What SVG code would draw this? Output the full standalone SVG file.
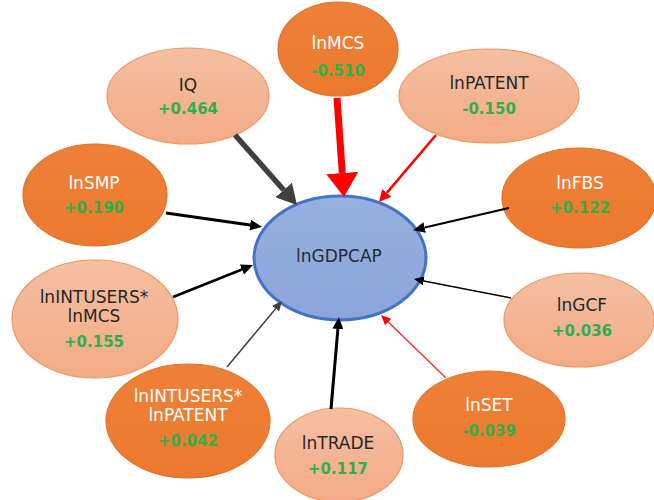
<svg xmlns="http://www.w3.org/2000/svg" width="654" height="500" viewBox="0 0 654 500">
<defs>
<linearGradient id="gDark" x1="0" y1="0" x2="0" y2="1">
<stop offset="0" stop-color="#EE8038"/><stop offset="1" stop-color="#EC7A2E"/>
</linearGradient>
<linearGradient id="gLight" x1="0" y1="0" x2="0" y2="1">
<stop offset="0" stop-color="#F5BFA2"/><stop offset="1" stop-color="#F3AB86"/>
</linearGradient>
<linearGradient id="gBlue" x1="0" y1="0" x2="0" y2="1">
<stop offset="0" stop-color="#98B0E0"/><stop offset="1" stop-color="#8AA5DA"/>
</linearGradient>
<marker id="mRedBig" markerUnits="userSpaceOnUse" viewBox="0 0 24 32" refX="0" refY="16" markerWidth="24" markerHeight="32" orient="auto"><path d="M0,0 L24,16 L0,32 Z" fill="#FF0000"/></marker>
<marker id="mGrayBig" markerUnits="userSpaceOnUse" viewBox="0 0 20 22" refX="0" refY="11" markerWidth="20" markerHeight="22" orient="auto"><path d="M0,0 L20,11 L0,22 Z" fill="#404040"/></marker>
<marker id="mRed" markerUnits="userSpaceOnUse" viewBox="0 0 12 12" refX="0" refY="6" markerWidth="12" markerHeight="12" orient="auto"><path d="M0,0 L12,6 L0,12 Z" fill="#FF0000"/></marker>
<marker id="mRedS" markerUnits="userSpaceOnUse" viewBox="0 0 10 9" refX="0" refY="4.5" markerWidth="10" markerHeight="9" orient="auto"><path d="M0,0 L10,4.5 L0,9 Z" fill="#FF0000"/></marker>
<marker id="mBlack" markerUnits="userSpaceOnUse" viewBox="0 0 12 11" refX="0" refY="5.5" markerWidth="12" markerHeight="11" orient="auto"><path d="M0,0 L12,5.5 L0,11 Z" fill="#000000"/></marker>
<marker id="mBlackS" markerUnits="userSpaceOnUse" viewBox="0 0 10 9" refX="0" refY="4.5" markerWidth="10" markerHeight="9" orient="auto"><path d="M0,0 L10,4.5 L0,9 Z" fill="#000000"/></marker>
<marker id="mGrayS" markerUnits="userSpaceOnUse" viewBox="0 0 10 9" refX="0" refY="4.5" markerWidth="10" markerHeight="9" orient="auto"><path d="M0,0 L10,4.5 L0,9 Z" fill="#404040"/></marker>
</defs>
<style>
.dark{fill:url(#gDark);stroke:#E07229;stroke-width:1.2}
.light{fill:url(#gLight);stroke:#EE955F;stroke-width:1.2}
.center{fill:url(#gBlue);stroke:#4472C4;stroke-width:3}
text{font-family:"DejaVu Sans","Liberation Sans",sans-serif;text-anchor:middle}
.nw{fill:#FFFFFF;font-size:17px}
.nd{fill:#262626;font-size:17px}
.v{fill:#2DB04A;font-size:15px;font-weight:bold}
.c{fill:#222A35;font-size:17px}
line{fill:none}
</style>
<g id="nodes">
<g id="n-lnMCS"><ellipse class="dark" cx="338" cy="49" rx="60" ry="47"/><text class="nw" x="338" y="49">lnMCS</text><text class="v" x="338" y="76">-0.510</text></g>
<g id="n-IQ"><ellipse class="light" cx="188" cy="96" rx="81" ry="48"/><text class="nd" x="188" y="91">IQ</text><text class="v" x="188" y="114">+0.464</text></g>
<g id="n-lnPATENT"><ellipse class="light" cx="489" cy="96" rx="90" ry="47"/><text class="nd" x="489" y="89">lnPATENT</text><text class="v" x="489" y="114">-0.150</text></g>
<g id="n-lnSMP"><ellipse class="dark" cx="95" cy="195" rx="72" ry="51"/><text class="nw" x="94" y="189">lnSMP</text><text class="v" x="94" y="213">+0.190</text></g>
<g id="n-lnFBS"><ellipse class="dark" cx="579" cy="198" rx="77" ry="50"/><text class="nw" x="580" y="189">lnFBS</text><text class="v" x="580" y="213">+0.122</text></g>
<g id="n-lnINTUSERSlnMCS"><ellipse class="light" cx="95" cy="319" rx="83" ry="59"/><text class="nd" x="94" y="303">lnINTUSERS*</text><text class="nd" x="94" y="322">lnMCS</text><text class="v" x="94" y="347">+0.155</text></g>
<g id="n-lnGCF"><ellipse class="light" cx="579" cy="320" rx="75" ry="47"/><text class="nd" x="582" y="311">lnGCF</text><text class="v" x="582" y="336">+0.036</text></g>
<g id="n-lnINTUSERSlnPATENT"><ellipse class="dark" cx="188" cy="421" rx="82" ry="57"/><text class="nw" x="188" y="402">lnINTUSERS*</text><text class="nw" x="188" y="421">lnPATENT</text><text class="v" x="188" y="446">+0.042</text></g>
<g id="n-lnSET"><ellipse class="dark" cx="489" cy="419" rx="76" ry="48"/><text class="nw" x="489" y="411">lnSET</text><text class="v" x="489" y="436">-0.039</text></g>
<g id="n-lnTRADE"><ellipse class="light" cx="339" cy="455" rx="64" ry="47"/><text class="nd" x="338" y="449">lnTRADE</text><text class="v" x="338" y="474">+0.117</text></g>
<g id="n-lnGDPCAP"><ellipse class="center" cx="340" cy="258" rx="86" ry="62"/><text class="c" x="339" y="262">lnGDPCAP</text></g>
</g>
<g id="connectors">
<line x1="235" y1="135" x2="283.7" y2="190" stroke="#404040" stroke-width="5.5" marker-end="url(#mGrayBig)"/>
<line x1="337" y1="98" x2="342.3" y2="173" stroke="#FF0000" stroke-width="7" marker-end="url(#mRedBig)"/>
<line x1="436" y1="135" x2="386.8" y2="192.9" stroke="#FF0000" stroke-width="2.5" marker-end="url(#mRed)"/>
<line x1="509" y1="208" x2="424.7" y2="227.5" stroke="#000000" stroke-width="2" marker-end="url(#mBlack)"/>
<line x1="166" y1="213" x2="250.1" y2="225.1" stroke="#000000" stroke-width="3" marker-end="url(#mBlack)"/>
<line x1="173" y1="297" x2="241.9" y2="269.5" stroke="#000000" stroke-width="2.5" marker-end="url(#mBlack)"/>
<line x1="227" y1="367" x2="275.6" y2="308.7" stroke="#404040" stroke-width="1.5" marker-end="url(#mGrayS)"/>
<line x1="331" y1="409" x2="337.9" y2="329" stroke="#000000" stroke-width="3" marker-end="url(#mBlack)"/>
<line x1="446" y1="378" x2="388.2" y2="322" stroke="#FF3030" stroke-width="1.5" marker-end="url(#mRedS)"/>
<line x1="511" y1="298" x2="423.8" y2="280.9" stroke="#000000" stroke-width="1.5" marker-end="url(#mBlackS)"/>
</g>
</svg>
